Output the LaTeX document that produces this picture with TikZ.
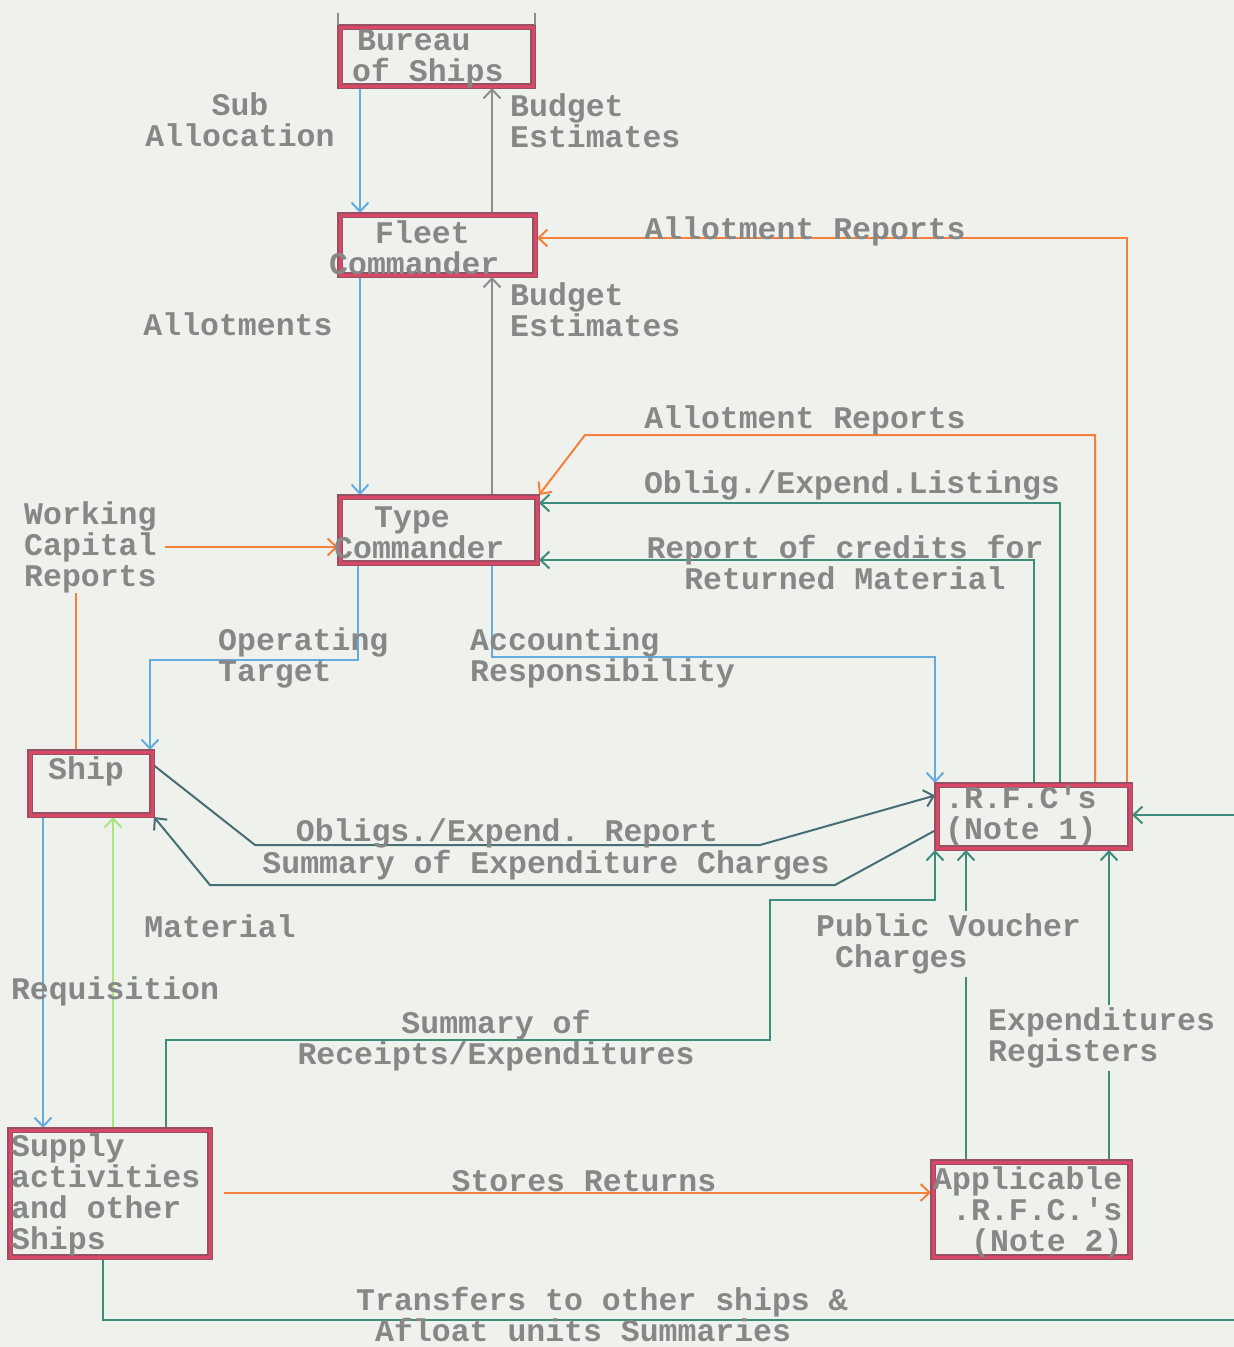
\documentclass[tikz,border=0pt]{standalone}
\usepackage{fontspec}
\setmainfont{Liberation Mono}
\usetikzlibrary{arrows.meta,calc}
\definecolor{bg}{RGB}{238,241,236}
\definecolor{tgray}{RGB}{135,135,135}
\definecolor{cblue}{RGB}{100,172,222}
\definecolor{corange}{RGB}{245,128,60}
\definecolor{cteal}{RGB}{62,140,124}
\definecolor{cdteal}{RGB}{70,110,115}
\definecolor{cgray}{RGB}{140,140,140}
\definecolor{cgreen}{RGB}{165,230,125}
\definecolor{boxred}{RGB}{218,72,102}
\definecolor{boxdark}{RGB}{150,80,100}
\pgfdeclarelayer{paper}
\pgfdeclarelayer{lines}
\pgfsetlayers{paper,lines,main}
\begin{document}
\begin{tikzpicture}[x=1pt,y=-1pt,
  box/.style={rectangle, draw=boxred, line width=3pt, preaction={draw=boxdark, line width=6pt}, inner sep=0pt, outer sep=2pt},
  lbl/.style={font=\fontsize{31.5}{31}\selectfont\bfseries, text=tgray, inner sep=0pt},
  conn/.style={line width=2pt},
  arr/.style={conn, -{Straight Barb[length=9pt,width=17pt,line width=2pt]}}
]
\begin{pgfonlayer}{paper}
\fill[bg] (0,0) rectangle (1234,1347);
\end{pgfonlayer}
\useasboundingbox (0,0) rectangle (1234,1347);

% boxes
\node[box, minimum width=193pt, minimum height=59pt] (bureau) at (436.5,56.5) {};
\node[box, minimum width=195pt, minimum height=60pt] (fleet) at (437.5,245) {};
\node[box, minimum width=197pt, minimum height=66pt] (type) at (438.5,530) {};
\node[box, minimum width=122pt, minimum height=63pt] (ship) at (91,783.5) {};
\node[box, minimum width=193pt, minimum height=63pt] (rfc1) at (1033.5,816.5) {};
\node[box, minimum width=200pt, minimum height=127pt] (supply) at (110,1193.5) {};
\node[box, minimum width=197pt, minimum height=95pt] (rfc2) at (1031.5,1209.5) {};

\draw[cgray, line width=1.5pt] (bureau.north west) -- ++(0,-12);
\draw[cgray, line width=1.5pt] (bureau.north east) -- ++(0,-12);

% box texts
\node[lbl, anchor=west, align=left] (tbureau) at (352,59) {\hspace*{5pt}Bureau\\of Ships};
\node[lbl, anchor=west, align=left] (tfleet) at (329,248) {\hspace*{46pt}Fleet\\Commander};
\node[lbl, anchor=west, align=left] (ttype) at (334,533) {\hspace*{40pt}Type\\Commander};
\node[lbl, anchor=west] (tship) at (48,771) {Ship};
\node[lbl, anchor=west, align=left] (trfc1) at (945,816) {.R.F.C\textquotesingle s\\(Note 1)};
\node[lbl, anchor=west, align=left] (tsupply) at (11,1195) {Supply\\activities\\and other\\Ships};
\node[lbl, anchor=west, align=left] (trfc2) at (933,1212) {Applicable\\\hspace*{19pt}.R.F.C.\textquotesingle s\\\hspace*{38pt}(Note 2)};

% labels
\node[lbl, align=center] (lsub) at (240,120) {Sub\\Allocation};
\node[lbl, anchor=west, align=left] (lbud1) at (510,121) {Budget\\Estimates};
\node[lbl] (lar1) at (805,231) {Allotment Reports};
\node[lbl] (lallot) at (238,324) {Allotments};
\node[lbl, anchor=west, align=left] (lbud2) at (510,310) {Budget\\Estimates};
\node[lbl] (lar2) at (805,420) {Allotment Reports};
\node[lbl] (lobl) at (852,485) {Oblig./Expend.Listings};
\node[lbl, align=center] (lrep) at (845,563) {Report of credits for\\Returned Material};
\node[lbl, anchor=west, align=left] (wcr) at (24,547) {Working\\Capital\\Reports};
\node[lbl, anchor=west, align=left] (lop) at (218,658) {Operating\\Target};
\node[lbl, anchor=west, align=left] (lacc) at (470,658) {Accounting\\Responsibility};
\node[lbl] (lobr) at (507,833) {Obligs./Expend. Report};
\node[lbl] (lsum) at (546,865) {Summary of Expenditure Charges};
\node[lbl] (lmat) at (220,926) {Material};
\node[lbl] (lreq) at (115,991) {Requisition};
\node[lbl, anchor=west, align=left, fill=bg, inner sep=3pt] (lpv) at (813,944) {Public Voucher\\\hspace*{19pt}Charges};
\node[lbl, anchor=west, align=left, fill=bg, inner sep=3pt] (ler) at (985,1038) {Expenditures\\Registers};
\node[lbl, align=center] (lsr) at (496,1041) {Summary of\\Receipts/Expenditures};
\node[lbl] (lst) at (584,1181) {Stores Returns};
\node[lbl, anchor=west, align=left] (ltr) at (356,1314) {Transfers to other ships \&\\\hspace*{19pt}Afloat units Summaries};

\begin{pgfonlayer}{lines}
\draw[arr, cblue] ([xshift=22pt]bureau.south west) -- ([xshift=22pt]fleet.north west);
\draw[arr, cgray] ([xshift=-45pt]fleet.north east) -- ([xshift=-43pt]bureau.south east);
\draw[arr, corange] ([xshift=-5pt]rfc1.north east) |- ([yshift=7pt]fleet.east);
\draw[arr, cblue] ([xshift=22pt]fleet.south west) -- ([xshift=22pt]type.north west);
\draw[arr, cgray] ([xshift=-47pt]type.north east) -- ([xshift=-45pt]fleet.south east);
\draw[arr, corange] ([xshift=-37pt]rfc1.north east) -- (1095,435) -- (585,435) -- (type.north east);
\draw[arr, cteal] ([xshift=-72pt]rfc1.north east) |- ([yshift=27pt]type.east);
\draw[arr, cteal] ([xshift=-98pt]rfc1.north east) |- ([yshift=-30pt]type.east);
\coordinate (s1) at ([xshift=48pt]ship.north west);
\draw[conn, corange] (s1) -- (s1 |- wcr.south);
\coordinate (w1) at ([xshift=8pt]wcr.east);
\draw[arr, corange] (w1) -- (w1 -| type.west);
\coordinate (ot) at (150,660);
\draw[arr, cblue] ([xshift=20pt]type.south west) |- (ot) -- (ot |- ship.north);
\coordinate (ac) at (935,657);
\draw[arr, cblue] ([xshift=-47pt]type.south east) |- (ac) -- (ac |- rfc1.north);
\draw[arr, cdteal] ([yshift=18pt]ship.east) -- (255,845) -- (760,845) -- ([yshift=21pt]rfc1.west);
\draw[arr, cdteal] ([yshift=-14pt]rfc1.west) -- (835,885) -- (210,885) -- (ship.south east);
\coordinate (m1) at ([xshift=105pt]supply.north west);
\draw[arr, cgreen] (m1) -- (m1 |- ship.south);
\coordinate (r1) at ([xshift=15pt]ship.south west);
\draw[arr, cblue] (r1) -- (r1 |- supply.north);
\coordinate (sr) at ([xshift=158pt]supply.north west);
\draw[arr, cteal] (sr) |- (770,1040) -- (770,900) -- (935,900) -- (rfc1.south west);
\coordinate (pv) at ([xshift=35pt]rfc2.north west);
\draw[arr, cteal] (pv) -- (pv |- rfc1.south);
\coordinate (er) at ([xshift=-23pt]rfc2.north east);
\draw[arr, cteal] (er) -- (er |- rfc1.south);
\coordinate (st) at ([xshift=12pt,yshift=1pt]supply.east);
\draw[arr, corange] (st) -- (st -| rfc2.west);
\coordinate (tr) at ([xshift=95pt]supply.south west);
\coordinate (trE) at (1234,1320);
\draw[conn, cteal] (tr) |- (trE);
\coordinate (trR) at (1234,815);
\draw[arr, cteal] (trR) -- (trR -| rfc1.east);
\end{pgfonlayer}
\end{tikzpicture}
\end{document}
